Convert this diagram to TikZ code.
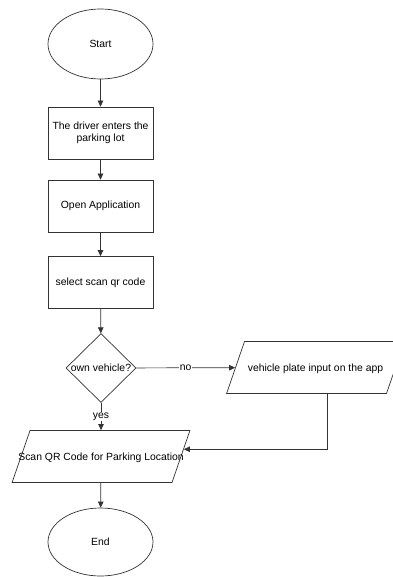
\documentclass[tikz,border=0pt]{standalone}
\usepackage{fontspec}
\setmainfont{Liberation Sans}
\usetikzlibrary{shapes.geometric,arrows.meta,positioning}

\newcommand{\spill}[1]{\makebox[0pt]{#1}}

\begin{document}
\begin{tikzpicture}[x=1pt,y=-1pt,
  font=\fontsize{10.4}{12.5}\selectfont,
  line width=0.7pt,draw=black!80,
  terminal/.style={draw,ellipse,minimum width=105pt,minimum height=70pt,inner sep=0pt},
  process/.style={draw,rectangle,minimum width=105pt,minimum height=52pt,align=center,inner sep=0pt},
  decision/.style={draw,diamond,minimum width=70pt,minimum height=69pt,inner sep=0pt},
  inout/.style={draw,trapezium,trapezium left angle=71,trapezium right angle=109,
    text height=29.5pt,text depth=22.5pt,inner xsep=71pt,inner ysep=0pt},
  flow/.style={draw=black!80,-{Triangle[length=6pt,width=5.5pt]}},
  tag/.style={fill=white,inner sep=1pt}]
\useasboundingbox (0,0) rectangle (392,577);

% steps
\node[terminal] (start) at (100.5,44) {Start};
\node[process] (enter) at (100.5,133) {The driver enters the\\parking lot};
\node[process] (open) at (100.5,206) {Open Application};
\node[process] (select) at (100.5,282.5) {select scan qr code};
\node[decision] (own) at (101,368) {\spill{own vehicle?}};
\node[inout] (plate) at (315.5,367.5) {\spill{vehicle plate input on the app}};
\node[inout] (scan) at (101,456.5) {\spill{Scan QR Code for Parking Location}};
\node[terminal,minimum height=68pt] (end) at (100.5,542) {End};

% arrows
\draw[flow] (start) -- (enter);
\draw[flow] (enter) -- (open);
\draw[flow] (open) -- (select);
\draw[flow] (select) -- (own);
\draw[flow] (own) -- node[tag] {no} (plate);
\draw[flow] (own) -- node[tag] {yes} (scan);
\coordinate (turn) at (327,449);
\draw[flow] (plate.south -| turn) |- (scan.5);
\draw[flow] (scan) -- (end);
\end{tikzpicture}
\end{document}
